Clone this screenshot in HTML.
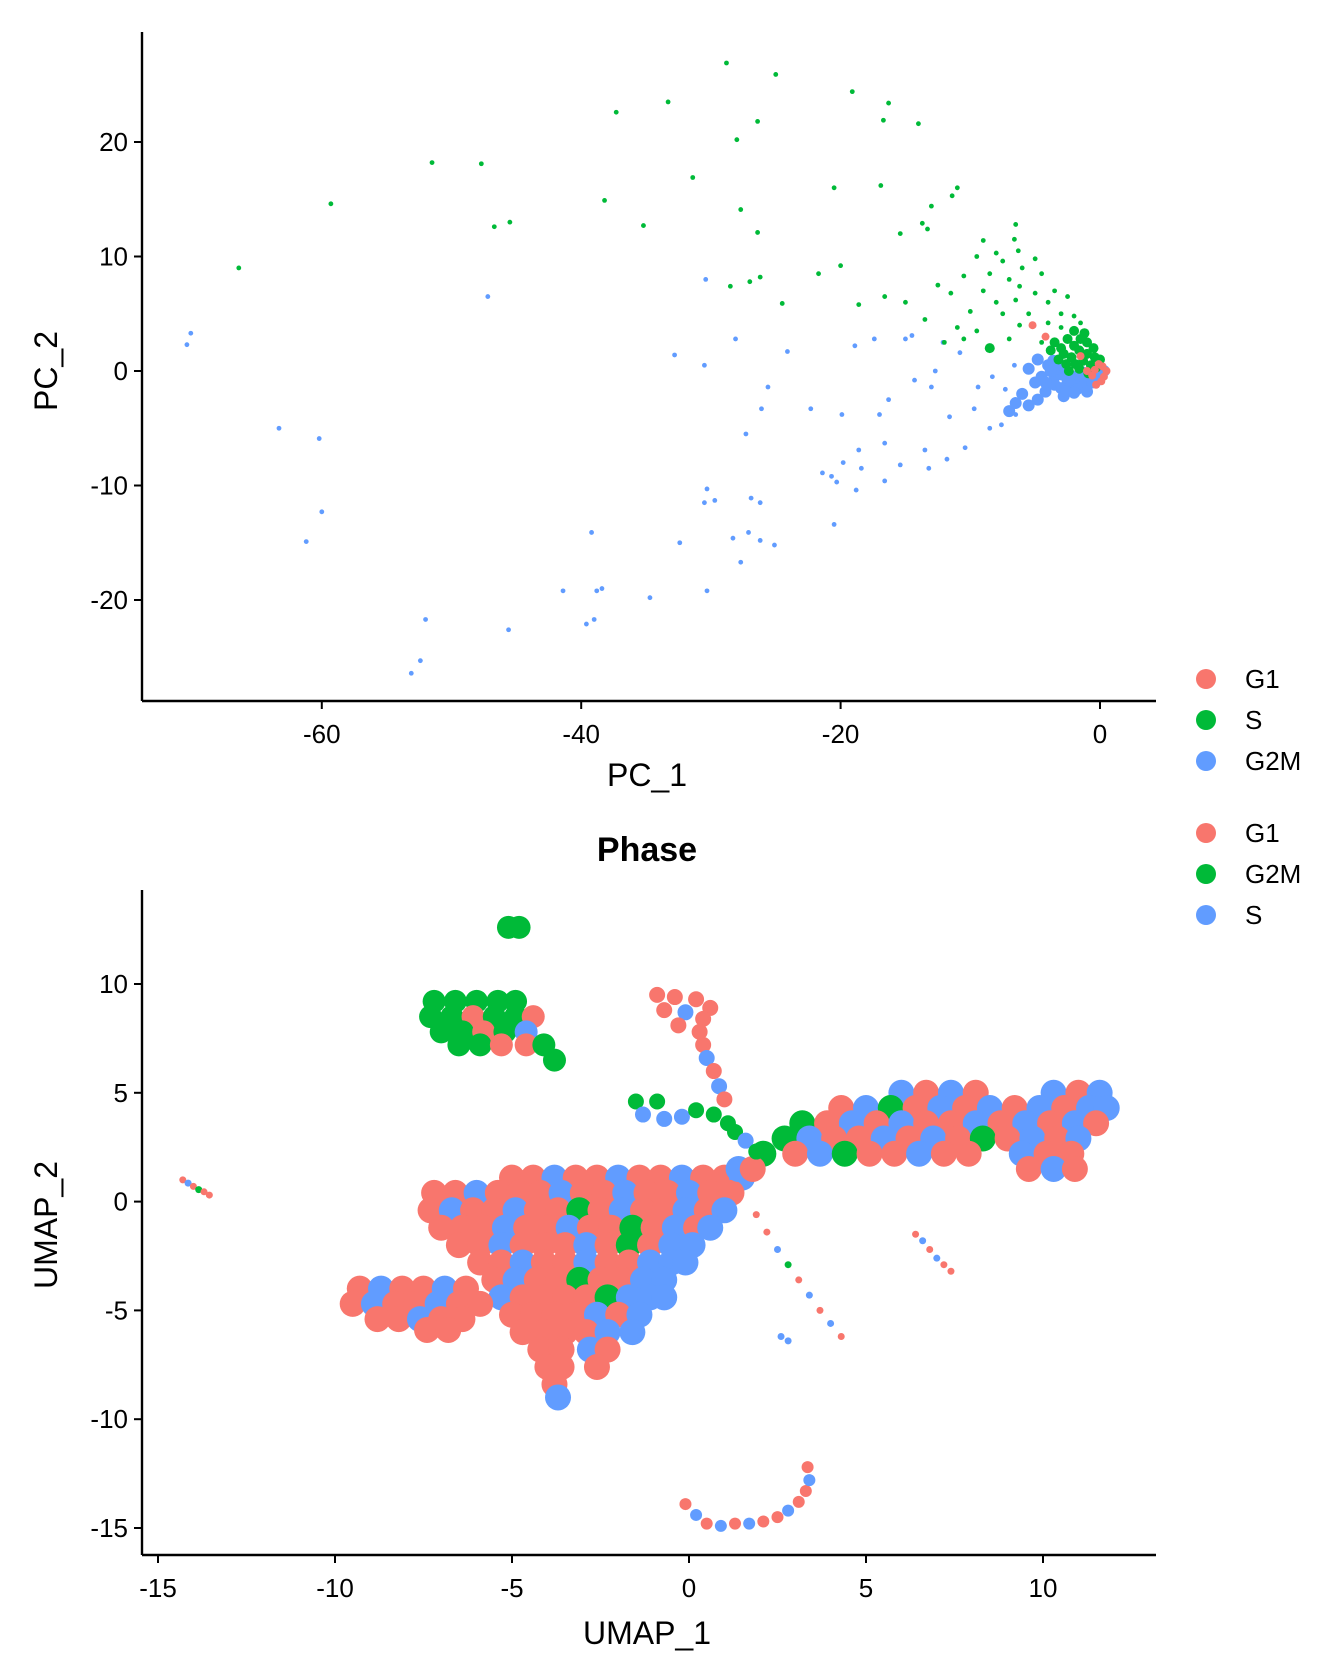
<!DOCTYPE html>
<html><head><meta charset="utf-8"><style>
html,body{margin:0;padding:0;background:#fff;}
svg{display:block;font-family:"Liberation Sans",Arial,sans-serif;}
</style></head><body>
<svg id="fig" width="1344" height="1680" viewBox="0 0 1344 1680">
<g id="pca"></g>
<g id="umap"></g>
<g id="legends"></g>
</svg>
<script>
// ---------- PCA data (PC_1, PC_2) ----------
const pcaTicksX = [-60, -40, -20, 0];
const pcaTicksY = [-20, -10, 0, 10, 20];
const pcaG2M = [[-70.1,3.3],[-70.4,2.3],[-47.2,6.5],[-30.4,8.0],[-63.3,-5.0],[-60.2,-5.9],[-60.0,-12.3],[-61.2,-14.9],[-32.8,1.4],[-30.5,0.5],[-28.1,2.8],[-24.1,1.7],[-25.6,-1.4],[-26.1,-3.3],[-27.3,-5.5],[-22.3,-3.3],[-18.9,2.2],[-17.4,2.8],[-19.9,-3.8],[-17.0,-3.8],[-16.3,-2.5],[-16.6,-6.3],[-18.6,-6.9],[-19.8,-8.0],[-21.4,-8.9],[-20.7,-9.2],[-20.3,-9.7],[-18.8,-10.4],[-16.6,-9.6],[-15.4,-8.2],[-18.4,-8.5],[-13.2,-8.5],[-13.5,-6.9],[-11.8,-7.7],[-10.4,-6.7],[-11.6,-4.0],[-14.3,-0.8],[-13.0,-1.4],[-15.0,2.8],[-14.5,3.1],[-12.1,2.5],[-10.8,1.6],[-9.7,-3.3],[-8.5,-5.0],[-7.3,-1.6],[-6.5,-3.8],[-5.4,-2.8],[-7.6,-4.7],[-6.6,0.5],[-20.5,-13.4],[-26.9,-11.1],[-26.2,-11.5],[-30.3,-10.3],[-30.5,-11.5],[-29.7,-11.3],[-27.1,-14.1],[-28.3,-14.6],[-26.2,-14.8],[-25.1,-15.2],[-27.7,-16.7],[-32.4,-15.0],[-39.2,-14.1],[-41.4,-19.2],[-38.8,-19.2],[-38.4,-19.0],[-34.7,-19.8],[-30.3,-19.2],[-39.0,-21.7],[-39.6,-22.1],[-45.6,-22.6],[-52.0,-21.7],[-52.4,-25.3],[-53.1,-26.4],[-9.4,-1.4],[-8.3,-0.5],[-12.7,0],
[-4.5,-0.5],[-4,0.5],[-3.5,-0.5],[-3,-0.3],[-2.5,-0.8],[-2,-0.5],[-1.5,-0.9],[-1,-0.6],[-0.5,-0.4],[0,-0.2],[-3.5,-1.2],[-3,-1.5],[-2.2,-1.2],[-1.8,-1.6],[-1.2,-1.2],[-0.6,-1],[-4.2,-1.8],[-2.8,-2.2],[-5,-1],[-5.5,0.2],[-4.8,1],[-3.2,0.2],[-1.4,-0.1],[-0.2,-0.8],[0.3,0],[-2.6,-1.8],[-6,-2],[-5.5,-3],[-7,-3.5],[-6.5,-2.8],[-4.8,-2.5],[-3.8,0],[-2.8,0.4],[-2,-1.9],[-1,-1.8],[-3.6,0.9],[-4.2,-1.0]];
const pcaS = [[-28.8,26.9],[-25.0,25.9],[-19.1,24.4],[-16.3,23.4],[-37.3,22.6],[-33.3,23.5],[-26.4,21.8],[-16.7,21.9],[-14.0,21.6],[-28.0,20.2],[-51.5,18.2],[-47.7,18.1],[-31.4,16.9],[-20.5,16.0],[-16.9,16.2],[-11.0,16.0],[-11.4,15.3],[-13.0,14.4],[-59.3,14.6],[-38.2,14.9],[-27.7,14.1],[-46.7,12.6],[-45.5,13.0],[-35.2,12.7],[-26.4,12.1],[-13.7,12.9],[-15.4,12.0],[-13.3,12.4],[-66.4,9.0],[-20.0,9.2],[-21.7,8.5],[-26.2,8.2],[-27.0,7.8],[-28.5,7.4],[-24.5,5.9],[-18.6,5.8],[-16.6,6.5],
[-6.5,12.8],[-6.6,11.5],[-6.3,10.5],[-9.0,11.4],[-8.0,10.3],[-9.5,10.0],[-7.5,9.6],[-5.0,9.8],[-6.0,9.0],[-8.5,8.5],[-10.5,8.3],[-12.5,7.5],[-7.0,8.0],[-4.5,8.5],[-6.2,7.4],[-11.5,6.8],[-9.0,7.0],[-5.0,6.8],[-3.5,7.0],[-8.0,6.0],[-6.5,6.2],[-4.0,6.0],[-2.5,6.5],[-10.0,5.2],[-7.5,5.0],[-5.5,5.0],[-3.0,5.0],[-2.0,4.8],[-4.0,4.2],[-6.2,4.0],[-9.5,3.5],[-3.0,3.8],[-1.5,4.2],[-2.5,3.0],[-4.5,2.5],[-7.0,2.8],[-12.0,2.5],[-10.5,2.8],[-11.0,3.8],[-15.0,6.0],[-13.5,4.5],[-8.5,2.0],
[-3.5,2.5],[-3,2],[-2.5,2.8],[-2,2.2],[-1.5,2.8],[-1,2.5],[-0.5,2],[-2.8,1.5],[-2.2,1.2],[-1.6,1.8],[-1,1.5],[-0.4,1.2],[0,1],[-3.2,1],[-2.6,0.6],[-1.9,0.6],[-1.3,0.9],[-0.7,0.5],[-2,3.5],[-1.2,3.3],[-3.8,1.8],[-0.3,0.3],[-1.6,0.2],[-2.4,0],[-0.9,-0.2]];
const pcaG1 = [[0.5,0],[0.2,0.4],[-0.4,0.1],[-0.6,-0.4],[0.3,-0.5],[-0.1,0.6],[-5.2,4.0],[-4.2,3.0],[-1,0],[-0.3,-1.2],[0.1,-0.9],[-1.5,1.3]];

// ---------- UMAP data ----------
const umapTicksX = [-15, -10, -5, 0, 5, 10];
const umapTicksY = [-15, -10, -5, 0, 5, 10];
// rows: [UMAP_2, [UMAP_1 values], phase codes R=G1 G=G2M B=S]
const mainRows = [
 [1.1,[-5.0,-4.4,-3.8,-3.2,-2.6,-2.0,-1.4,-0.8,-0.2,0.4,1.0,1.5],"RRBRRBRRBRRB"],
 [0.4,[-7.2,-6.6,-6.0,-5.4,-4.8,-4.2,-3.6,-3.0,-2.4,-1.8,-1.2,-0.6,0.0,0.6,1.2],"RRBRRRBRRBRRBRR"],
 [-0.4,[-7.3,-6.7,-6.1,-5.5,-4.9,-4.3,-3.7,-3.1,-2.5,-1.9,-1.3,-0.7,-0.1,0.5,1.0],"RBRRBRRGRBRRBRB"],
 [-1.2,[-7.0,-6.4,-5.8,-5.2,-4.6,-4.0,-3.4,-2.8,-2.2,-1.6,-1.0,-0.4,0.2,0.6],"RRRBRRBRRGRBRB"],
 [-2.0,[-6.5,-5.9,-5.3,-4.7,-4.1,-3.5,-2.9,-2.3,-1.7,-1.1,-0.5,0.1],"RRBRRRBRGRBB"],
 [-2.8,[-5.9,-5.3,-4.7,-4.1,-3.5,-2.9,-2.3,-1.7,-1.1,-0.5,-0.1],"RRBRRBRRBBB"],
 [-3.6,[-5.5,-4.9,-4.3,-3.7,-3.1,-2.5,-1.9,-1.3,-0.7],"RBRRGRRBB"],
 [-4.4,[-5.3,-4.7,-4.1,-3.5,-2.9,-2.3,-1.7,-1.1,-0.7],"BRRRRGBBB"],
 [-5.2,[-5.0,-4.4,-3.8,-3.2,-2.6,-2.0,-1.4],"RRRRBRB"],
 [-6.0,[-4.7,-4.1,-3.5,-2.9,-2.3,-1.6],"RRRRBB"],
 [-6.8,[-4.2,-3.6,-2.8,-2.3],"RRBR"],
 [-7.6,[-4.0,-3.6,-2.6],"RRR"],
 [-8.4,[-3.8],"R"],
 [-9.0,[-3.7],"B"],
 [-4.0,[-9.3,-8.7,-8.1,-7.5,-6.9,-6.3],"RBRRBR"],
 [-4.7,[-9.5,-8.9,-8.3,-7.7,-7.1,-6.5,-5.9],"RBRRBRR"],
 [-5.4,[-8.8,-8.2,-7.6,-7.0,-6.4],"RRBRR"],
 [-5.9,[-7.4,-6.8],"RR"]
];
const rightRows = [
 [5.0,[6.0,6.7,7.4,8.1,10.3,11.0,11.6],"BRBRBRB"],
 [4.3,[4.3,5.0,5.7,6.4,7.1,7.8,8.5,9.2,9.9,10.6,11.3,11.8],"RBGRBRBRBRBB"],
 [3.6,[3.2,3.9,4.6,5.3,6.0,6.7,7.4,8.1,8.8,9.5,10.2,10.9,11.5],"GRBRBRRBRBRBR"],
 [2.9,[2.7,3.4,4.1,4.8,5.5,6.2,6.9,7.6,8.3,9.0,9.7,10.4,11.0],"GBRRBRBRGRBRB"],
 [2.2,[2.1,3.0,3.7,4.4,5.1,5.8,6.5,7.2,7.9,9.4,10.1,10.8],"GRBGRRBRRBRR"],
 [1.5,[1.4,1.8,9.6,10.3,10.9],"BRRBR"]
];
const greenLeftRows = [
 [9.2,[-7.2,-6.6,-6.0,-5.4,-4.9],"GGGGG"],
 [8.5,[-7.3,-6.7,-6.1,-5.5,-4.9,-4.4],"GGRGGR"],
 [7.8,[-7.0,-6.4,-5.8,-5.2,-4.6],"GGRGB"],
 [7.2,[-6.5,-5.9,-5.3,-4.6,-4.1],"GGRRG"],
 [6.5,[-3.8],"G"],
 [12.6,[-5.1,-4.8],"GG"]
];
const smallPoints = [
 [-1.5,4.6,"G"],[-0.9,4.6,"G"],[-1.3,4.0,"B"],[-0.7,3.8,"B"],[-0.2,3.9,"B"],[0.2,4.2,"G"],[0.7,4.0,"G"],[1.1,3.6,"G"],[1.3,3.2,"G"],[1.6,2.8,"B"],[1.9,2.3,"G"],
 [-0.9,9.5,"R"],[-0.4,9.4,"R"],[0.2,9.3,"R"],[0.6,8.9,"R"],[-0.7,8.8,"R"],[-0.1,8.7,"B"],[0.4,8.4,"R"],[-0.3,8.1,"R"],[0.3,7.8,"R"],[0.4,7.2,"R"],
 [0.5,6.6,"B"],[0.7,6.0,"R"],[0.85,5.3,"B"],[1.0,4.7,"R"]
];
const strandPoints = [
 [-14.3,1.0,"R"],[-14.15,0.85,"B"],[-14.0,0.7,"R"],[-13.85,0.55,"G"],[-13.7,0.45,"R"],[-13.55,0.3,"R"],
 [6.4,-1.5,"R"],[6.6,-1.8,"B"],[6.8,-2.2,"R"],[7.0,-2.6,"B"],[7.2,-2.9,"R"],[7.4,-3.2,"R"],
 [1.9,-0.6,"R"],[2.2,-1.4,"R"],[2.5,-2.2,"B"],[2.8,-2.9,"G"],[3.1,-3.6,"R"],[3.4,-4.3,"B"],[3.7,-5.0,"R"],[4.0,-5.6,"B"],[4.3,-6.2,"R"],
 [2.6,-6.2,"B"],[2.8,-6.4,"B"]
];
const arcPoints = [
 [-0.1,-13.9,"R"],[0.2,-14.4,"B"],[0.5,-14.8,"R"],[0.9,-14.9,"B"],[1.3,-14.8,"R"],[1.7,-14.8,"B"],[2.1,-14.7,"R"],[2.5,-14.5,"R"],[2.8,-14.2,"B"],[3.1,-13.8,"R"],[3.3,-13.3,"R"],[3.4,-12.8,"B"],[3.35,-12.2,"R"]
];

// ---------- rendering ----------
const NS = "http://www.w3.org/2000/svg";
const COL = {R:"#F8766D", G:"#00BA38", B:"#619CFF"};
function mk(parent, tag, attrs, text){
  const e = document.createElementNS(NS, tag);
  for (const k in attrs) e.setAttribute(k, attrs[k]);
  if (text !== undefined) e.textContent = text;
  parent.appendChild(e);
  return e;
}
const pX = v => 1100 + v*12.97;
const pY = v => 371 - v*11.45;
const uX = v => 689 + v*35.4;
const uY = v => 1201.6 - v*21.76;

function axes(g, x0, x1, y0, y1, ticksX, ticksY, sx, sy, xTitle, yTitle, xTitleY, yTitleY, nm){
  const ax = mk(g,'line',{x1:x0,y1:y1,x2:x1,y2:y1,stroke:'#000','stroke-width':2.4});
  
  
  const ay = mk(g,'line',{x1:x0,y1:y0,x2:x0,y2:y1,stroke:'#000','stroke-width':2.4});
  
  
  ticksX.forEach(t=>{
    const x = sx(t);
    const tk = mk(g,'line',{x1:x,y1:y1,x2:x,y2:y1+8,stroke:'#000','stroke-width':2});
    
    
    const lb = mk(g,'text',{x:x,y:y1+42,'font-size':26,'text-anchor':'middle',fill:'#000'}, String(t));
    
    
  });
  ticksY.forEach(t=>{
    const y = sy(t);
    const tk = mk(g,'line',{x1:x0-8,y1:y,x2:x0,y2:y,stroke:'#000','stroke-width':2});
    
    
    const lb = mk(g,'text',{x:x0-14,y:y+9,'font-size':26,'text-anchor':'end',fill:'#000'}, String(t));
    
    
  });
  const xt = mk(g,'text',{x:647,y:xTitleY,'font-size':32,'text-anchor':'middle',fill:'#000'}, xTitle);
  
  
  const yt = mk(g,'text',{x:0,y:0,'font-size':32,'text-anchor':'middle',fill:'#000',transform:`translate(57,${yTitleY}) rotate(-90)`}, yTitle);
  
  
}

const pca = document.getElementById('pca');
axes(pca, 142, 1156, 32, 701, pcaTicksX, pcaTicksY, pX, pY, 'PC_1', 'PC_2', 786, 371, 'pca');
function pcaDots(arr, col, r, name){
  arr.forEach(p=>{
    const c = mk(pca,'circle',{cx:pX(p[0]),cy:pY(p[1]),r:r,fill:col});
    
    
  });
}
pcaDots(pcaG2M, COL.B, 2.4, 'pca-point-g2m');
pcaDots(pcaS, COL.G, 2.4, 'pca-point-s');
pcaDots(pcaG2M.slice(76), COL.B, 6, 'pca-core-point-g2m');
pcaDots(pcaS.slice(78), COL.G, 5, 'pca-core-point-s');
pcaDots(pcaG1, COL.R, 4, 'pca-point-g1');

const um = document.getElementById('umap');
axes(um, 142, 1156, 890, 1555, umapTicksX, umapTicksY, uX, uY, 'UMAP_1', 'UMAP_2', 1644, 1225, 'umap');
const ttl = mk(um,'text',{x:647,y:861,'font-size':34,'font-weight':'bold','text-anchor':'middle',fill:'#000'},'Phase');



function drawRows(rows, r, name){
  rows.forEach(row=>{
    const y = row[0], xs = row[1], ph = row[2];
    xs.forEach((x,i)=>{
      const c = mk(um,'circle',{cx:uX(x),cy:uY(y),r:r,fill:COL[ph[i]]});
      
      
    });
  });
}
function drawPts(arr, r, name){
  arr.forEach(p=>{
    const c = mk(um,'circle',{cx:uX(p[0]),cy:uY(p[1]),r:r,fill:COL[p[2]]});
    
    
  });
}
drawRows(mainRows, 13, 'umap-main-cluster-cell');
drawRows(rightRows, 13, 'umap-right-cluster-cell');
drawRows(greenLeftRows, 11.5, 'umap-upper-left-cluster-cell');
drawPts(smallPoints, 8, 'umap-branch-cell');
drawPts(strandPoints, 3.5, 'umap-strand-cell');
drawPts(arcPoints, 6, 'umap-arc-cell');

const lg = document.getElementById('legends');
const legendA = [['G1','R',679],['S','G',720],['G2M','B',761]];
const legendB = [['G1','R',833],['G2M','G',874],['S','B',915]];
[legendA, legendB].forEach(L=>{
  L.forEach(e=>{
    const c = mk(lg,'circle',{cx:1206,cy:e[2],r:10,fill:COL[e[1]]});
    
    
    const t = mk(lg,'text',{x:1245,y:e[2]+9,'font-size':26,fill:'#000'}, e[0]);
    
    
  });
});
</script>
</body></html>
